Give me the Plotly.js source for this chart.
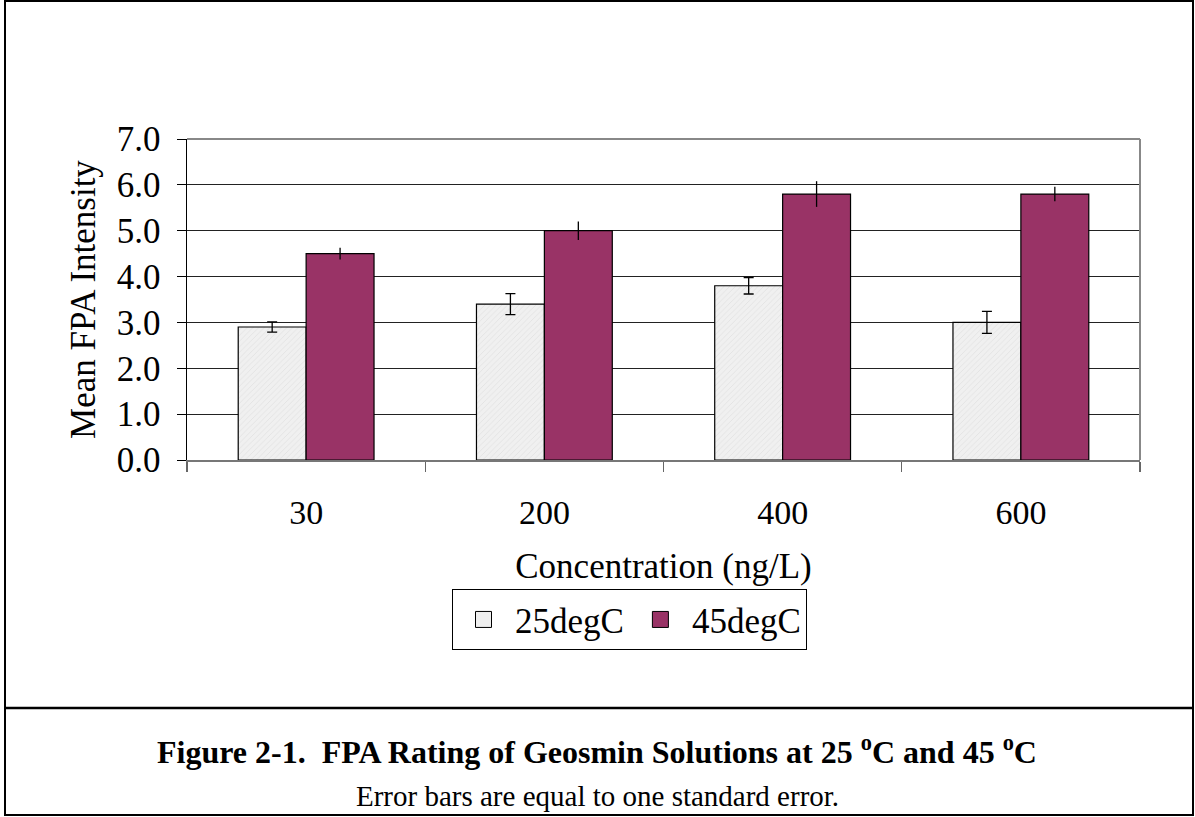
<!DOCTYPE html>
<html>
<head>
<meta charset="utf-8">
<script src="https://cdn.plot.ly/plotly-3.0.1.min.js"></script>
<style>
html,body{margin:0;padding:0;background:#fff;}
#chart{width:1195px;height:817px;}
</style>
</head>
<body>
<div id="chart"></div>
<script>
const categories = ["30", "200", "400", "600"];
const series25Name = "25degC";
const series45Name = "45degC";
const values25 = [2.9, 3.4, 3.8, 3.0];
const errors25 = [0.11, 0.23, 0.18, 0.24];
const values45 = [4.5, 5.0, 5.8, 5.8];
const errors45 = [0.13, 0.20, 0.28, 0.16];
const yTickValues = [0, 1, 2, 3, 4, 5, 6, 7];

const W = 1195, H = 817;
const L = 187, R = 1140, T = 139, B = 460;
const px = x => (x - L) / (R - L);
const py = y => (B - y) / (B - T);
const font = "Liberation Serif, Times New Roman, serif";
const color25 = "#efefef", color45 = "#993366";

const traces = [
  {
    type: "bar", name: series25Name, x: categories, y: values25, legendgroup: "a", showlegend: false,
    marker: {color: color25, line: {color: "#000", width: 1.2},
      pattern: {shape: "/", size: 4, solidity: 0.15, fgcolor: "#dcdcdc", bgcolor: "#f0f0f0"}},
    error_y: {type: "data", array: errors25, visible: true, color: "#000", thickness: 1.3, width: 5}
  },
  {
    type: "bar", name: series45Name, x: categories, y: values45, legendgroup: "b", showlegend: false,
    marker: {color: color45, line: {color: "#000", width: 1.2}},
    error_y: {type: "data", array: errors45, visible: true, color: "#000", thickness: 1.3, width: 0}
  },
  {
    type: "scatter", mode: "markers", name: series25Name, legendgroup: "a", x: [null], y: [null],
    marker: {symbol: "square", size: 22, color: color25, line: {color: "#000", width: 1}}
  },
  {
    type: "scatter", mode: "markers", name: series45Name, legendgroup: "b", x: [null], y: [null],
    marker: {symbol: "square", size: 22, color: color45, line: {color: "#000", width: 1}}
  }
];

const layout = {
  width: W, height: H,
  margin: {l: L, r: W - R, t: T, b: H - B, pad: 0},
  paper_bgcolor: "#fff", plot_bgcolor: "#fff",
  font: {family: font, color: "#000", size: 34},
  barmode: "group", bargap: 0.43, bargroupgap: 0,
  showlegend: true,
  legend: {orientation: "h", x: px(452), y: py(589), xanchor: "left", yanchor: "top",
    bordercolor: "#000", borderwidth: 1.2, font: {family: font, size: 35, color: "#000"},
    itemwidth: 53, tracegroupgap: 0, itemsizing: "trace"},
  xaxis: {
    type: "category", tickson: "boundaries", ticks: "outside", ticklen: 10, tickcolor: "#666",
    tickwidth: 1.2, showline: true, linecolor: "#777", linewidth: 1.5, showgrid: false,
    tickfont: {family: font, size: 34}, automargin: false, ticklabelstandoff: 22,
    title: {text: "Concentration (ng/L)", font: {family: font, size: 35}, standoff: 23}
  },
  yaxis: {
    range: [0, 7], tickvals: yTickValues, tickformat: ".1f", ticks: "outside", ticklen: 9,
    tickcolor: "#000", showline: true, linecolor: "#000", linewidth: 1.5,
    showgrid: true, gridcolor: "#222", gridwidth: 1, zeroline: false,
    tickfont: {family: font, size: 35}, automargin: false, ticklabelstandoff: 9,
    title: {text: "Mean FPA Intensity", font: {family: font, size: 35}, standoff: 10}
  },
  shapes: [
    {type: "line", xref: "paper", yref: "paper", x0: 0, x1: 1, y0: 1, y1: 1, line: {color: "#888", width: 2}},
    {type: "line", xref: "paper", yref: "paper", x0: 1, x1: 1, y0: 0, y1: 1, line: {color: "#888", width: 2}},
    {type: "rect", xref: "paper", yref: "paper", x0: px(5), x1: px(1193), y0: py(1), y1: py(815), line: {color: "#000", width: 2}, layer: "below"},
    {type: "line", xref: "paper", yref: "paper", x0: px(5), x1: px(1193), y0: py(708), y1: py(708), line: {color: "#000", width: 2.5}}
  ],
  annotations: [
    {xref: "paper", yref: "paper", x: px(597), y: py(750), xanchor: "center", yanchor: "middle", showarrow: false,
      text: "<b>Figure 2-1.  FPA Rating of Geosmin Solutions at 25 <sup>o</sup>C and 45 <sup>o</sup>C</b>",
      font: {family: font, size: 32, color: "#000"}},
    {xref: "paper", yref: "paper", x: px(597), y: py(796), xanchor: "center", yanchor: "middle", showarrow: false,
      text: "Error bars are equal to one standard error.",
      font: {family: font, size: 29, color: "#000"}}
  ]
};

Plotly.newPlot("chart", traces, layout, {displayModeBar: false, staticPlot: true});
</script>
</body>
</html>
